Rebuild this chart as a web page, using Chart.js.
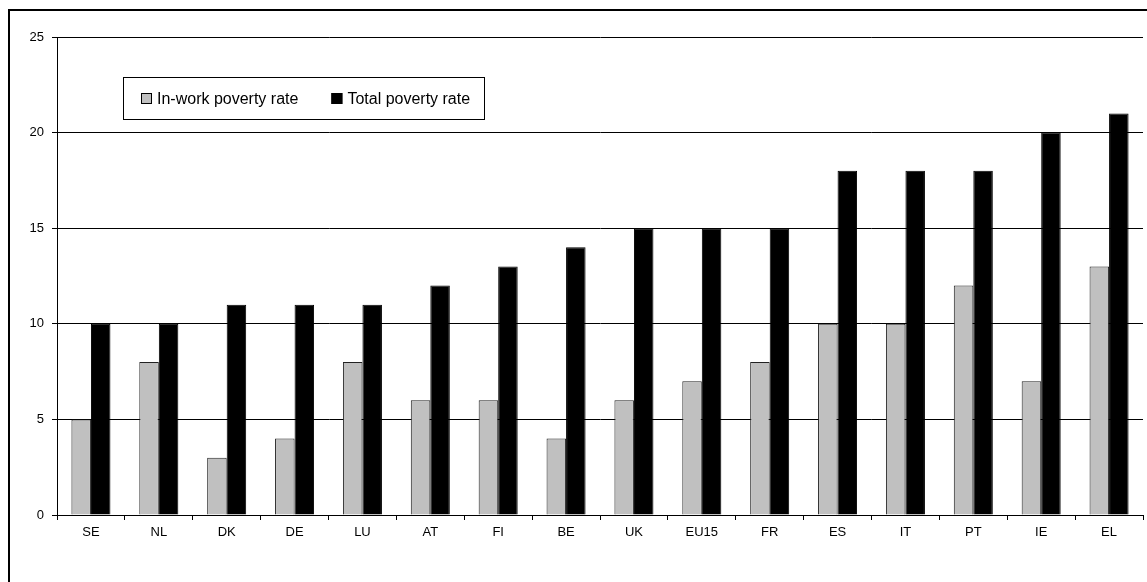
<!DOCTYPE html>
<html>
<head>
<meta charset="utf-8">
<script src="https://cdn.jsdelivr.net/npm/chart.js@4.4.1/dist/chart.umd.min.js"></script>
<style>
  html, body { margin: 0; padding: 0; background: #fff; }
  #wrap { width: 1147px; height: 582px; position: relative; }
</style>
</head>
<body>
<div id="wrap"><canvas id="povChart"></canvas></div>
<script>
// data
var countries = ['SE', 'NL', 'DK', 'DE', 'LU', 'AT', 'FI', 'BE', 'UK', 'EU15', 'FR', 'ES', 'IT', 'PT', 'IE', 'EL'];
var inWorkRate = [5, 8, 3, 4, 8, 6, 6, 4, 6, 7, 8, 10, 10, 12, 7, 13];
var totalRate = [10, 10, 11, 11, 11, 12, 13, 14, 15, 15, 15, 18, 18, 18, 20, 21];
var yTicks = [0, 5, 10, 15, 20, 25];

var fontFam = '"Liberation Sans", Arial, sans-serif';

// outer frame, the picture is cut on the right and bottom
var framePlugin = {
    id: 'frame',
    beforeDraw: function (chart) {
        var ctx = chart.ctx;
        ctx.save();
        ctx.fillStyle = '#fff';
        ctx.fillRect(0, 0, chart.width, chart.height);
        ctx.strokeStyle = '#000';
        ctx.lineWidth = 2;
        ctx.strokeRect(9, 10, 1300, 800);
        ctx.restore();
    }
};

// boxed legend sitting inside the plot
var boxLegend = {
    id: 'boxLegend',
    afterDraw: function (chart) {
        var ctx = chart.ctx;
        var x0 = 123.5, y0 = 77.5, w = 361, h = 42;
        var mid = y0 + h / 2;
        ctx.save();
        ctx.fillStyle = '#fff';
        ctx.fillRect(x0, y0, w, h);
        ctx.strokeStyle = '#000';
        ctx.lineWidth = 1;
        ctx.strokeRect(x0, y0, w, h);
        ctx.font = '16px ' + fontFam;
        ctx.textBaseline = 'middle';
        var x = 141;
        chart.data.datasets.forEach(function (ds) {
            ctx.fillStyle = ds.backgroundColor;
            ctx.fillRect(x, mid - 5.5, 11, 11);
            ctx.strokeStyle = '#000';
            ctx.strokeRect(x + 0.5, mid - 5, 10, 10);
            ctx.fillStyle = '#000';
            ctx.fillText(ds.label, x + 16, mid + 1);
            x += 16 + ctx.measureText(ds.label).width + 33;
        });
        ctx.restore();
    }
};

var povChart = new Chart(document.getElementById('povChart'), {
    type: 'bar',
    data: {
        labels: countries,
        datasets: [{
            label: 'In-work poverty rate',
            data: inWorkRate,
            backgroundColor: '#c0c0c0',
            borderColor: '#222',
            borderWidth: 1,
            categoryPercentage: 0.575,
            barPercentage: 1.0
        }, {
            label: 'Total poverty rate',
            data: totalRate,
            backgroundColor: '#000',
            borderColor: '#000',
            borderWidth: 1,
            categoryPercentage: 0.575,
            barPercentage: 1.0
        }]
    },
    options: {
        responsive: true,
        maintainAspectRatio: false,
        animation: false,
        layout: { padding: { top: 37, right: 4, left: 0, bottom: 0 } },
        plugins: {
            legend: { display: false },
            tooltip: { enabled: false }
        },
        scales: {
            x: {
                grid: { offset: true, drawOnChartArea: false, drawTicks: true, tickLength: 5, color: '#000' },
                border: { color: '#000', width: 1 },
                ticks: { color: '#000', font: { family: fontFam, size: 13 }, padding: 5, autoSkip: false, maxRotation: 0 },
                afterFit: function (s) { s.height = 67; }
            },
            y: {
                min: 0,
                max: 25,
                afterBuildTicks: function (s) { s.ticks = yTicks.map(function (v) { return { value: v }; }); },
                grid: { color: '#000', lineWidth: 1, tickLength: 5 },
                border: { color: '#000', width: 1 },
                ticks: { color: '#000', font: { family: fontFam, size: 13 }, padding: 8 },
                afterFit: function (s) { s.width = 57; }
            }
        }
    },
    plugins: [framePlugin, boxLegend]
});
</script>
</body>
</html>
